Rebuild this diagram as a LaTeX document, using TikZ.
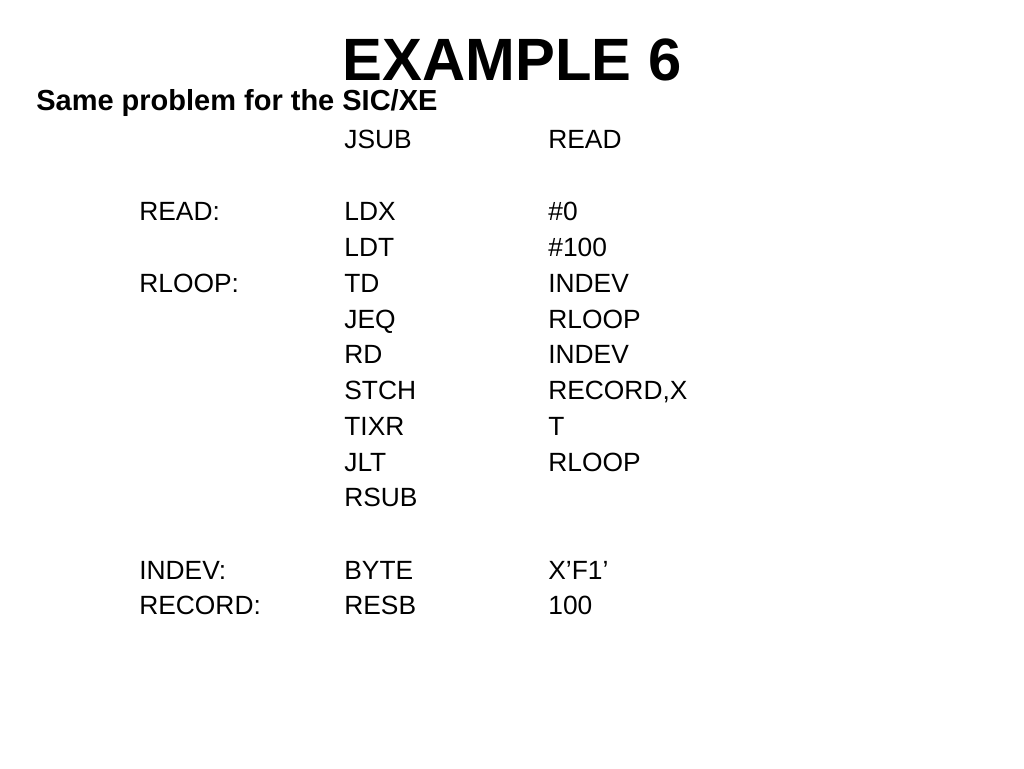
\documentclass[tikz,border=0pt]{standalone}
\usepackage{fontspec}
\setmainfont{Liberation Sans}
\begin{document}
\begin{tikzpicture}[x=0.02cm,y=-0.02cm]
        \tikzset{code/.style={anchor=west, inner sep=0pt, font=\fontsize{15}{18}\selectfont}}
        \useasboundingbox (0,0) rectangle (1024,768);
        % Title
        \node[font=\bfseries\fontsize{34}{40}\selectfont, inner sep=0pt] (title) at (512,60) {EXAMPLE 6};
        \node[font=\bfseries\fontsize{16.5}{20}\selectfont, anchor=west, inner sep=0pt] (sub) at (36,103) {Same problem for the SIC/XE};
        % Program lines
        \foreach \y/\lab/\op/\arg [count=\i] in {142//JSUB/READ, 214/READ:/LDX/\#0, 250//LDT/\#100,
                286/RLOOP:/TD/INDEV, 322//JEQ/RLOOP, 357//RD/INDEV, 393//STCH/{RECORD,X},
                429//TIXR/T, 465//JLT/RLOOP, 500//RSUB/, 573/INDEV:/BYTE/X’F1’, 608/RECORD:/RESB/100} {
            \node[code] (lab\i) at (139,\y) {\strut\lab};
            \node[code] (op\i) at (344,\y) {\strut\op};
            \node[code] (arg\i) at (548,\y) {\strut\arg};
        }
    \end{tikzpicture}
\end{document}
